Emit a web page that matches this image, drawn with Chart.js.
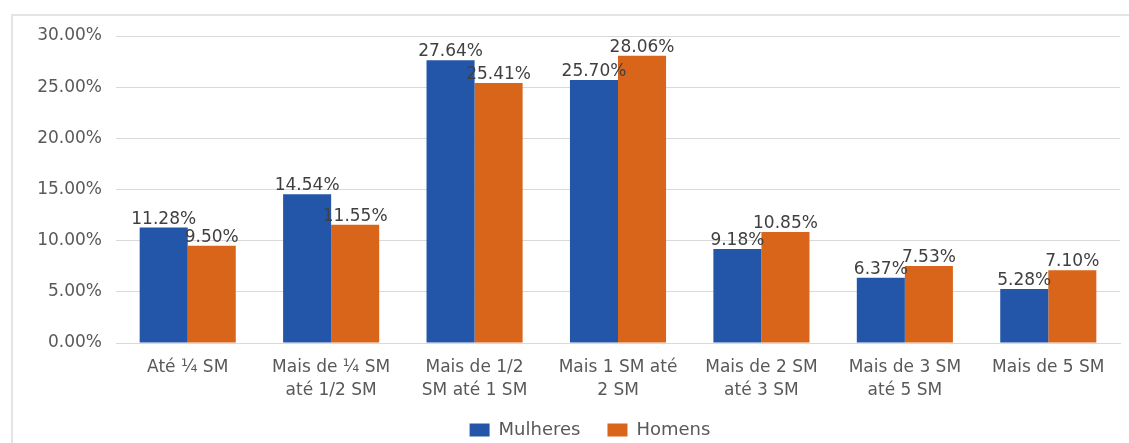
<!DOCTYPE html>
<html>
<head>
<meta charset="utf-8">
<script src="https://cdn.jsdelivr.net/npm/chart.js@4/dist/chart.umd.min.js"></script>
<style>
  body { margin: 0; background: #fff; }
  #frame { position: absolute; left: 11px; top: 14px; width: 1200px; height: 500px;
           border-left: 2px solid #e4e4e4; border-top: 2px solid #e4e4e4; }
  #wrap { position: absolute; left: 0; top: 0; width: 1129px; height: 443px; }
</style>
</head>
<body>
<div id="frame"></div>
<div id="wrap"><canvas id="myChart" width="1129" height="443"></canvas></div>
<script>
const categories = [
  'Até ¼ SM',
  ['Mais de ¼ SM', 'até 1/2 SM'],
  ['Mais de 1/2', 'SM até 1 SM'],
  ['Mais 1 SM até', '2 SM'],
  ['Mais de 2 SM', 'até 3 SM'],
  ['Mais de 3 SM', 'até 5 SM'],
  'Mais de 5 SM'
];
const mulheres = [11.28, 14.54, 27.64, 25.70, 9.18, 6.37, 5.28];
const homens = [9.50, 11.55, 25.41, 28.06, 10.85, 7.53, 7.10];
const yTicks = [0, 5, 10, 15, 20, 25, 30];

const fontName = '"DejaVu Sans", sans-serif';

// value labels above each bar
const barLabels = {
  id: 'barLabels',
  afterDatasetsDraw(chart) {
    const ctx = chart.ctx;
    ctx.save();
    ctx.font = '17px ' + fontName;
    ctx.fillStyle = '#404040';
    ctx.textAlign = 'center';
    ctx.textBaseline = 'alphabetic';
    chart.data.datasets.forEach((ds, i) => {
      chart.getDatasetMeta(i).data.forEach((bar, j) => {
        ctx.fillText(ds.data[j].toFixed(2) + '%', bar.x, bar.y - 4);
      });
    });
    ctx.restore();
  }
};

// nudge the legend into place (only the top moves, so its clip box grows)
const legendShift = {
  id: 'legendShift',
  afterLayout(chart) {
    const lg = chart.legend;
    lg.top -= 19;
    lg.left += 30; lg.right += 30;
  }
};

new Chart(document.getElementById('myChart'), {
  type: 'bar',
  data: {
    labels: categories,
    datasets: [
      { label: 'Mulheres', data: mulheres, backgroundColor: '#2356a8' },
      { label: 'Homens', data: homens, backgroundColor: '#d9651a' }
    ]
  },
  options: {
    responsive: false,
    animation: false,
    categoryPercentage: 0.67,
    barPercentage: 1.0,
    layout: { padding: { left: 0, right: 9, top: 36, bottom: 0 } },
    scales: {
      x: {
        grid: { display: false },
        border: { color: '#d9d9d9' },
        ticks: { color: '#595959', font: { family: fontName, size: 17, lineHeight: 1.3 }, padding: 6, maxRotation: 0, autoSkip: false },
        afterFit(scale) { scale.height = 70; }
      },
      y: {
        min: 0, max: 30,
        afterBuildTicks(scale) { scale.ticks = yTicks.map(v => ({ value: v })); },
        grid: { color: '#d9d9d9', drawTicks: false },
        border: { display: false },
        ticks: { color: '#595959', font: { family: fontName, size: 17 }, padding: 14,
                 callback: v => v.toFixed(2) + '%' },
        afterFit(scale) { scale.width = 116; }
      }
    },
    plugins: {
      legend: {
        position: 'bottom',
        maxHeight: 30,
        labels: { color: '#595959', font: { family: fontName, size: 18 }, boxWidth: 20, boxHeight: 13, padding: 27 }
      },
      tooltip: { enabled: false }
    }
  },
  plugins: [barLabels, legendShift]
});
</script>
</body>
</html>
